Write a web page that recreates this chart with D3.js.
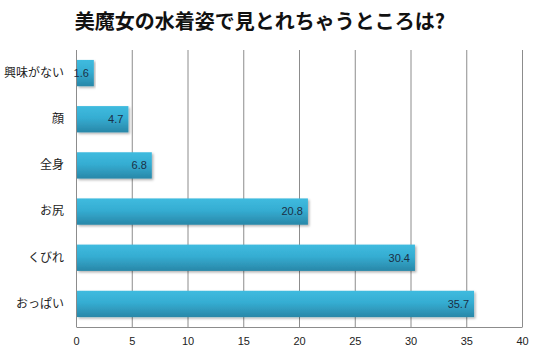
<!DOCTYPE html>
<html>
<head>
<meta charset="utf-8">
<script src="https://cdn.jsdelivr.net/npm/d3@7"></script>
<style>
  body { margin: 0; background: #fff; }
</style>
</head>
<body>
<div id="chart"></div>
<script>
// Chart data
const categories = ['興味がない', '顔', '全身', 'お尻', 'くびれ', 'おっぱい'];
const values = [1.6, 4.7, 6.8, 20.8, 30.4, 35.7];
const xTicks = [0, 5, 10, 15, 20, 25, 30, 35, 40];
const title = '美魔女の水着姿で見とれちゃうところは?';

const width = 540;
const height = 354;
const margin = { top: 50, right: 18, bottom: 27, left: 76 };
const innerWidth = width - margin.left - margin.right;
const innerHeight = height - margin.top - margin.bottom;
const font = '"Noto Sans CJK JP", "Noto Sans", sans-serif';

const data = categories.map((c, i) => ({ label: c, value: values[i] }));

const svg = d3.select('#chart')
  .append('svg')
  .attr('width', width)
  .attr('height', height);

// Gradient and shadow for bars
const defs = svg.append('defs');
const grad = defs.append('linearGradient')
  .attr('id', 'barGrad')
  .attr('x1', 0).attr('y1', 0).attr('x2', 0).attr('y2', 1);
grad.append('stop').attr('offset', '0%').attr('stop-color', '#3fbbdf');
grad.append('stop').attr('offset', '45%').attr('stop-color', '#35add2');
grad.append('stop').attr('offset', '100%').attr('stop-color', '#2987a8');

const shadow = defs.append('filter')
  .attr('id', 'shadow')
  .attr('x', '-5%').attr('y', '-10%').attr('width', '115%').attr('height', '140%');
shadow.append('feDropShadow')
  .attr('dx', 1.5).attr('dy', 1.5).attr('stdDeviation', 1)
  .attr('flood-color', '#000').attr('flood-opacity', 0.3);

// Title
svg.append('text')
  .attr('x', 260)
  .attr('y', 29)
  .attr('text-anchor', 'middle')
  .style('font-family', font)
  .style('font-size', '20px')
  .style('font-weight', 'bold')
  .style('fill', '#111')
  .text(title);

const g = svg.append('g')
  .attr('transform', `translate(${margin.left}, ${margin.top})`);

// Scales
const xScale = d3.scaleLinear()
  .domain([0, 40])
  .range([0, innerWidth]);

const yScale = d3.scaleBand()
  .domain(categories)
  .range([0, innerHeight])
  .paddingInner(0.43)
  .paddingOuter(0.215);

// Vertical gridlines
g.selectAll('.grid')
  .data(xTicks)
  .enter()
  .append('line')
  .attr('class', 'grid')
  .attr('x1', d => xScale(d) + 0.5)
  .attr('x2', d => xScale(d) + 0.5)
  .attr('y1', 0)
  .attr('y2', innerHeight)
  .attr('stroke', '#8c8c8c')
  .attr('stroke-width', 1);

// X axis
const xAxis = g.append('g')
  .attr('transform', `translate(0, ${innerHeight})`)
  .call(d3.axisBottom(xScale).tickValues(xTicks).tickSize(0).tickPadding(10));
xAxis.select('.domain').attr('stroke', '#8c8c8c').attr('d', `M0.5,0.5H${innerWidth + 0.5}`);
xAxis.selectAll('text')
  .style('font-family', '"Liberation Sans", "DejaVu Sans", sans-serif')
  .style('font-size', '11px')
  .style('fill', '#222');

// Y axis labels
const yAxis = g.append('g')
  .call(d3.axisLeft(yScale).tickSize(0).tickPadding(12));
yAxis.select('.domain').remove();
yAxis.selectAll('text')
  .style('font-family', font)
  .style('font-size', '12px')
  .style('fill', '#222');

// Bars
g.selectAll('.bar')
  .data(data)
  .enter()
  .append('rect')
  .attr('class', 'bar')
  .attr('x', 1)
  .attr('y', d => yScale(d.label))
  .attr('width', d => xScale(d.value) - 1)
  .attr('height', yScale.bandwidth())
  .attr('fill', 'url(#barGrad)')
  .attr('filter', 'url(#shadow)');

// Value labels
g.selectAll('.label')
  .data(data)
  .enter()
  .append('text')
  .attr('class', 'label')
  .attr('x', d => xScale(d.value) - 5)
  .attr('y', d => yScale(d.label) + yScale.bandwidth() / 2)
  .attr('dy', '0.35em')
  .attr('text-anchor', 'end')
  .style('font-family', '"Liberation Sans", "DejaVu Sans", sans-serif')
  .style('font-size', '11px')
  .style('fill', '#1b2f45')
  .text(d => d.value.toFixed(1));
</script>
</body>
</html>
